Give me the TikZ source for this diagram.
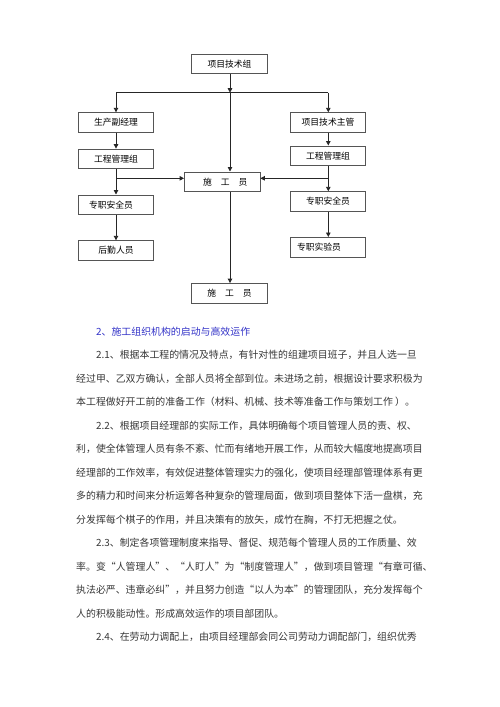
\documentclass[tikz,border=0pt]{standalone}
\usepackage{fontspec}
\newfontfamily\cjk{Noto Sans CJK SC}
\usetikzlibrary{arrows.meta,calc}
\XeTeXlinebreaklocale "zh"
\XeTeXlinebreakskip=0pt plus 3pt
\definecolor{txt}{RGB}{55,55,55}
\definecolor{head}{RGB}{50,50,200}
\definecolor{bord}{RGB}{85,85,85}
\begin{document}
\begin{tikzpicture}[x=1pt,y=-1pt,
  box/.style={draw=bord,line width=0.8pt,minimum width=75.5pt,minimum height=19.6pt,inner sep=0pt,font=\cjk\fontsize{8.8}{10}\selectfont},
  arr/.style={draw=black!85,line width=0.9pt,-{Triangle[length=4.5pt,width=4.5pt]}},
  ln/.style={draw=black!85,line width=0.9pt},
  para/.style={anchor=base west,inner sep=0pt,text=txt,font=\cjk\fontsize{9.9}{12}\selectfont}]
\useasboundingbox (0,0) rectangle (500,707);
\fill[white] (0,0) rectangle (500,707);

% boxes
\node[box] (top) at (229.5,64) {项目技术组};
\node[box] (L1) at (116,122.5) {生产副经理};
\node[box] (L2) at (116,158.8) {工程管理组};
\node[box] (L3) at (116,204.7) {\hspace*{-10pt}专职安全员};
\node[box] (L4) at (116,250.5) {后勤人员};
\node[box] (R1) at (328,122.5) {项目技术主管};
\node[box] (R2) at (328,155.7) {工程管理组};
\node[box] (R3) at (328,201.5) {专职安全员};
\node[box] (R4) at (328,247.2) {\hspace*{-18pt}专职实验员};
\node[box] (C) at (222.2,181.7) {\hspace*{6pt}施\hspace{9pt}工\hspace{9pt}员};
\node[box] (B) at (229.5,293.3) {施\hspace{9pt}工\hspace{9pt}员};

% connectors
\coordinate (J) at (230,92.7);
\coordinate (JL) at (116,92.7);
\coordinate (JR) at (328.3,92.7);
\coordinate (LB) at (116,178.3);
\coordinate (RB) at (328.3,178.3);
\draw[arr] (top.south -| J) -- (J);
\draw[ln] (JL) -- (JR);
\draw[arr] (JL) -- (L1.north);
\draw[arr] (JR) -- (R1.north -| JR);
\draw[arr] (J) -- (C.north -| J);
\draw[arr] (C.south -| J) -- (B.north -| J);
\draw[arr] (L1) -- (L2);
\draw[arr] (L2) -- (L3);
\draw[arr] (L3) -- (L4);
\draw[arr] (R1.south -| JR) -- (R2.north -| JR);
\draw[arr] (R2.south -| JR) -- (R3.north -| JR);
\draw[arr] (R3.south -| JR) -- (R4.north -| JR);
\draw[arr] (LB) -- (LB -| C.west);
\draw[arr] (RB) -- (RB -| C.east);

% text
\node[para] (p1) at (96,335.3) {\color{head}2、施工组织机构的启动与高效运作};
\node[para] (p2) at (96,358.8) {\hbox to 328pt{2.1、根据本工程的情况及特点，有针对性的组建项目班子，并且人选一旦}};
\node[para] (p3) at (76,382.3) {\hbox to 348pt{经过甲、乙双方确认，全部人员将全部到位。未进场之前，根据设计要求积极为}};
\node[para] (p4) at (76,405.8) {本工程做好开工前的准备工作（材料、机械、技术等准备工作与策划工作 ）。};
\node[para] (p5) at (96,429.3) {\hbox to 328pt{2.2、根据项目经理部的实际工作，具体明确每个项目管理人员的责、权、}};
\node[para] (p6) at (76,452.8) {\hbox to 348pt{利，使全体管理人员有条不紊、忙而有绪地开展工作，从而较大幅度地提高项目}};
\node[para] (p7) at (76,476.3) {\hbox to 348pt{经理部的工作效率，有效促进整体管理实力的强化，使项目经理部管理体系有更}};
\node[para] (p8) at (76,499.8) {\hbox to 348pt{多的精力和时间来分析运筹各种复杂的管理局面，做到项目整体下活一盘棋，充}};
\node[para] (p9) at (76,523.3) {分发挥每个棋子的作用，并且决策有的放矢，成竹在胸，不打无把握之仗。};
\node[para] (p10) at (96,546.8) {\hbox to 328pt{2.3、制定各项管理制度来指导、督促、规范每个管理人员的工作质量、效}};
\node[para] (p11) at (76,570.3) {\hbox to 348pt{率。变“人管理人”、“人盯人”为“制度管理人”，做到项目管理“有章可循、}};
\node[para] (p12) at (76,593.8) {\hbox to 348pt{执法必严、违章必纠”，并且努力创造“以人为本”的管理团队，充分发挥每个}};
\node[para] (p13) at (76,617.3) {人的积极能动性。形成高效运作的项目部团队。};
\node[para] (p14) at (96,640.8) {\hbox to 328pt{2.4、在劳动力调配上，由项目经理部会同公司劳动力调配部门，组织优秀}};
\end{tikzpicture}
\end{document}
